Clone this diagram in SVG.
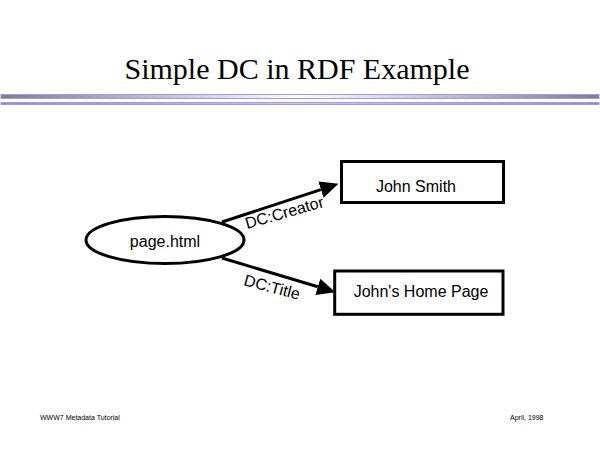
<svg xmlns="http://www.w3.org/2000/svg" width="600" height="450" viewBox="0 0 600 450">
<style>
.lbl{font-family:"Liberation Sans",Arial,sans-serif;font-size:16px;fill:#000}
.foot{font-family:"Liberation Sans",Arial,sans-serif;font-size:7px;fill:#000}
.shape{fill:#fff;stroke:#000;stroke-width:3}
.edge{stroke:#000;stroke-width:3;fill:none}
.bar{stroke:#9999ff;stroke-width:1}
</style>
<defs>
<linearGradient id="g" x1="0" y1="0" x2="1" y2="0">
<stop offset="0" stop-color="#808080"/>
<stop offset="0.5" stop-color="#ffffff"/>
<stop offset="1" stop-color="#808080"/>
</linearGradient>
<linearGradient id="g2" x1="0" y1="0" x2="1" y2="0">
<stop offset="0" stop-color="#9090c0"/>
<stop offset="0.5" stop-color="#c8c8ff"/>
<stop offset="1" stop-color="#9090c0"/>
</linearGradient>
<marker id="ah" markerUnits="userSpaceOnUse" markerWidth="20" markerHeight="20" viewBox="0 -10 20 20" refX="0" refY="0" orient="auto">
<path d="M0,-8.5 L18.5,0 L0,8.5 Z" fill="#000"/>
</marker>
</defs>
<rect width="600" height="450" fill="#fff"/>
<text x="297" y="79" text-anchor="middle" font-family="'Liberation Serif','Times New Roman',serif" font-size="30" fill="#000">Simple DC in RDF Example</text>
<rect class="bar" x="1" y="94.5" width="598" height="4" fill="url(#g)"/>
<rect class="bar" x="1" y="102.5" width="598" height="2" fill="url(#g2)"/>
<g id="connectors">
<path class="edge" d="M222,222 L320.9,189.6" marker-end="url(#ah)"/>
<path class="edge" d="M222,258 L317.8,286.8" marker-end="url(#ah)"/>
<text class="lbl" transform="translate(247,229) rotate(-16)">DC:Creator</text>
<text class="lbl" transform="translate(243,285) rotate(15)">DC:Title</text>
</g>
<g id="page">
<ellipse class="shape" cx="165" cy="240" rx="79" ry="23.5"/>
<text class="lbl" x="165" y="246.5" text-anchor="middle">page.html</text>
</g>
<g id="creator">
<rect class="shape" x="341.5" y="161.5" width="162" height="41"/>
<text class="lbl" x="416" y="191.5" text-anchor="middle">John Smith</text>
</g>
<g id="title">
<rect class="shape" x="334.7" y="271" width="168.3" height="43.3"/>
<text class="lbl" x="421" y="296.5" text-anchor="middle">John's Home Page</text>
</g>
<text class="foot" x="40" y="420">WWW7 Metadata Tutorial</text>
<text class="foot" x="510" y="420">April, 1998</text>
</svg>
